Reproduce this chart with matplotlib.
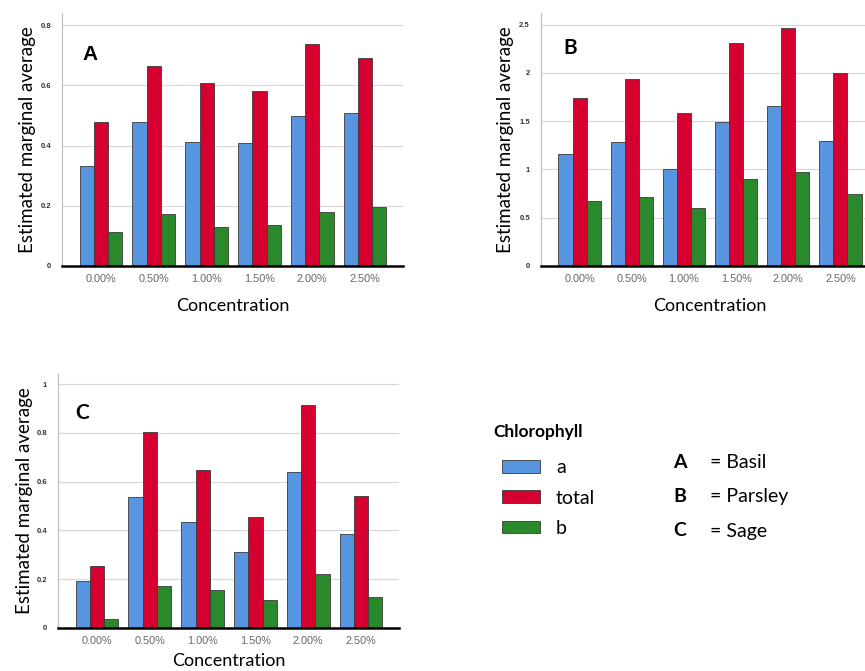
import numpy as np
import matplotlib
matplotlib.use('Agg')
import matplotlib.pyplot as plt

plt.rcParams['font.family'] = 'Lato'

concentrations = ['0.00%', '0.50%', '1.00%', '1.50%', '2.00%', '2.50%']
series_names = ['a', 'total', 'b']
colors = ['#5895E0', '#D5002F', '#2A8A2B']

# Basil
basil_a = [0.332, 0.479, 0.412, 0.407, 0.497, 0.509]
basil_total = [0.479, 0.664, 0.608, 0.582, 0.738, 0.689]
basil_b = [0.113, 0.171, 0.129, 0.136, 0.178, 0.196]

# Parsley
parsley_a = [1.157, 1.288, 1.004, 1.496, 1.659, 1.295]
parsley_total = [1.738, 1.932, 1.589, 2.310, 2.469, 1.998]
parsley_b = [0.672, 0.717, 0.596, 0.897, 0.976, 0.741]

# Sage
sage_a = [0.192, 0.538, 0.433, 0.311, 0.638, 0.386]
sage_total = [0.255, 0.804, 0.649, 0.456, 0.916, 0.540]
sage_b = [0.037, 0.174, 0.156, 0.114, 0.221, 0.126]

panels = [
    ('A', [basil_a, basil_total, basil_b], [0, 0.2, 0.4, 0.6, 0.8], ['0', '0.2', '0.4', '0.6', '0.8'], 0.84),
    ('B', [parsley_a, parsley_total, parsley_b], [0, 0.5, 1, 1.5, 2, 2.5], ['0', '0.5', '1', '1.5', '2', '2.5'], 2.62),
    ('C', [sage_a, sage_total, sage_b], [0, 0.2, 0.4, 0.6, 0.8, 1], ['0', '0.2', '0.4', '0.6', '0.8', '1'], 1.042),
]

W, H = 865, 671
fig = plt.figure(figsize=(W / 100, H / 100), dpi=100)

# axes boxes in pixels: left, top, right, bottom
boxes = [(62, 13, 403, 266), (541, 13, 878, 266), (58, 374, 399, 628)]
letter_pos = [(82, 54), (563, 48), (75, 413)]
letter_font = ['Liberation Sans', 'Lato', 'Lato']
xlabel_pad = [10, 10, 5]
ylabel_pad = [3, 4, 2]

x = np.arange(len(concentrations))
w = 0.27
handles = None

for k, ((letter, vals, yt, ytl, ytop), (l, t, r, b), (lx, ly), lf) in enumerate(
        zip(panels, boxes, letter_pos, letter_font)):
    ax = fig.add_axes([l / W, 1 - b / H, (r - l) / W, (b - t) / H])
    bars = []
    for i, (v, c) in enumerate(zip(vals, colors)):
        bars.append(ax.bar(x + (i - 1) * w, v, width=w, color=c, edgecolor='#3a3a3a',
                           linewidth=0.6, zorder=3, label=series_names[i]))
    handles = bars
    ax.set_xlim(-0.74, 5.72)
    ax.set_ylim(0, ytop)
    ax.set_yticks(yt)
    ax.set_yticklabels(ytl, family='Liberation Sans', fontsize=5.5, color='#333333', fontweight='bold')
    ax.set_xticks(x)
    ax.set_xticklabels(concentrations, family='Liberation Sans', fontsize=7.8, color='#666666')
    ax.tick_params(length=0)
    ax.tick_params(axis='y', pad=8)
    ax.tick_params(axis='x', pad=6)
    ax.grid(axis='y', color='#d8d8d8', linewidth=0.9, zorder=0)
    for s in ['top', 'right']:
        ax.spines[s].set_visible(False)
    ax.spines['left'].set_color('#bbbbbb')
    ax.spines['left'].set_linewidth(0.8)
    ax.spines['bottom'].set_color('black')
    ax.spines['bottom'].set_linewidth(1.8)
    ax.spines['bottom'].set_zorder(4)
    ax.set_ylabel('Estimated marginal average', fontsize=13.5, labelpad=ylabel_pad[k])
    ax.set_xlabel('Concentration', fontsize=13, labelpad=xlabel_pad[k])
    fig.text(lx / W, 1 - ly / H, letter, fontsize=15, fontweight='bold',
             family=lf, ha='left', va='center')

fig.text(493 / W, 1 - 432 / H, 'Chlorophyll', fontsize=12.5, fontweight='bold',
         ha='left', va='center')
fig.legend(handles=handles, labels=series_names, loc='center left',
           bbox_to_anchor=(484 / W, 1 - 498 / H), frameon=False,
           fontsize=14, handlelength=2.0, handleheight=0.62, handletextpad=0.8,
           labelspacing=0.68)

species = [('A', '= Basil'), ('B', '= Parsley'), ('C', '= Sage')]
for i, (k, name) in enumerate(species):
    yy = 1 - (462 + i * 34.5) / H
    fig.text(673 / W, yy, k, fontsize=14, fontweight='bold', va='center', ha='left')
    fig.text(710 / W, yy, name, fontsize=14, va='center', ha='left')

fig.savefig('out.png', dpi=100)
